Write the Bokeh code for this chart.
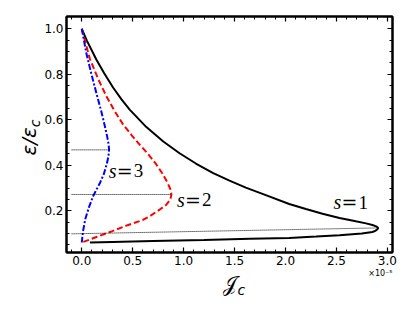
from bokeh.plotting import figure
from bokeh.models import Range1d, FixedTicker, LinearAxis, Label, NumeralTickFormatter
from bokeh.embed import file_html
from bokeh.resources import INLINE

# ---- data (J_c in units of 1e-5, energy as eps/eps_c) ----
s1_J = [0.0, 0.05, 0.144, 0.22, 0.307, 0.39, 0.47, 0.634, 0.8, 0.96, 1.12, 1.29, 1.45, 1.61, 1.8, 2.036, 2.2,
        2.363, 2.53, 2.69, 2.79, 2.853, 2.89, 2.91,
        2.9, 2.88, 2.853, 2.75, 2.53, 2.3, 2.036, 1.65, 1.2, 0.7, 0.3, 0.08]
s1_E = [1.0, 0.948, 0.864, 0.805, 0.742, 0.69, 0.645, 0.568, 0.505, 0.453, 0.408, 0.366, 0.333, 0.302, 0.27, 0.23,
        0.208, 0.187, 0.169, 0.154, 0.145, 0.138, 0.132, 0.125,
        0.118, 0.112, 0.107, 0.1, 0.093, 0.087, 0.081, 0.077, 0.072, 0.067, 0.063, 0.061]

s2_J = [0.0, 0.078, 0.16, 0.24, 0.32, 0.405, 0.49, 0.57, 0.65, 0.73, 0.79, 0.84, 0.87, 0.88, 0.87, 0.83, 0.76,
        0.68, 0.6, 0.45, 0.3, 0.15, 0.0]
s2_E = [1.0, 0.87, 0.78, 0.705, 0.64, 0.58, 0.532, 0.49, 0.45, 0.405, 0.365, 0.325, 0.295, 0.272, 0.25, 0.227,
        0.204, 0.18, 0.16, 0.137, 0.111, 0.086, 0.061]

s3_J = [0.0, 0.046, 0.095, 0.144, 0.19, 0.225, 0.25, 0.264, 0.268, 0.262, 0.245, 0.215, 0.176, 0.14, 0.11, 0.07,
        0.035, 0.012, 0.0]
s3_E = [1.0, 0.89, 0.8, 0.716, 0.64, 0.575, 0.525, 0.49, 0.468, 0.44, 0.405, 0.36, 0.32, 0.29, 0.263, 0.215,
        0.165, 0.11, 0.061]

# dotted guide lines: start / end points
guide_x0 = [-0.1, -0.1, -0.1]
guide_y0 = [0.468, 0.272, 0.099]
guide_x1 = [0.268, 0.88, 2.91]
guide_y1 = [0.468, 0.272, 0.125]

# curve labels
lab_num = ["1", "2", "3"]
lab_x = [2.47, 0.934, 0.265]
lab_y = [0.238, 0.248, 0.376]

x_major = [0.0, 0.5, 1.0, 1.5, 2.0, 2.5, 3.0]
y_major = [0.2, 0.4, 0.6, 0.8, 1.0]
x_minor = [round(0.1 * i, 1) for i in range(-1, 31)]
y_minor = [round(0.05 * i, 2) for i in range(0, 21)]

p = figure(frame_width=326, frame_height=236,
           x_range=Range1d(-0.15, 3.05), y_range=Range1d(0.017, 1.054),
           output_backend="svg", toolbar_location=None,
           min_border_left=66, min_border_right=12, min_border_top=16, min_border_bottom=10)
p.xgrid.visible = False
p.ygrid.visible = False
p.outline_line_color = "black"
p.outline_line_width = 2
p.background_fill_color = "white"
p.border_fill_color = "white"

xt = FixedTicker(ticks=x_major, minor_ticks=x_minor)
yt = FixedTicker(ticks=y_major, minor_ticks=y_minor)

p.add_layout(LinearAxis(), "above")
p.add_layout(LinearAxis(), "right")

for ax in p.xaxis:
    ax.ticker = xt
for ax in p.yaxis:
    ax.ticker = yt

for ax in list(p.xaxis) + list(p.yaxis):
    ax.axis_line_width = 2
    ax.axis_line_color = "black"
    ax.major_tick_in = 5
    ax.major_tick_out = 0
    ax.minor_tick_in = 3
    ax.minor_tick_out = 0
    ax.major_tick_line_width = 1.2
    ax.minor_tick_line_width = 1
    ax.major_tick_line_color = "black"
    ax.minor_tick_line_color = "black"
    ax.major_label_text_font = "DejaVu Sans"
    ax.major_label_text_font_size = "12px"
    ax.major_label_text_color = "black"
    ax.major_label_standoff = 3
    ax.formatter = NumeralTickFormatter(format="0.0")

for ax in (p.above[0], p.right[0]):
    ax.major_label_text_font_size = "0px"
    ax.major_label_text_color = None
    ax.major_label_standoff = 0

xa = p.below[0]
xa.axis_label = "𝒥"
xa.axis_label_text_font = "DejaVu Sans"
xa.axis_label_text_font_style = "normal"
xa.axis_label_text_font_size = "20px"
xa.axis_label_text_color = "black"
xa.axis_label_standoff = 4

p.line(s1_J, s1_E, line_color="black", line_width=2)
p.line(s2_J, s2_E, line_color="red", line_width=2, line_dash="6 3")
p.line(s3_J, s3_E, line_color="blue", line_width=2, line_dash="6 2 2 2")
p.segment(guide_x0, guide_y0, guide_x1, guide_y1, line_color="black", line_width=1, line_dash="1 1")

for num, lx, ly in zip(lab_num, lab_x, lab_y):
    p.add_layout(Label(x=lx, y=ly, text="s", text_font="Liberation Serif", text_font_style="italic",
                       text_font_size="20px", text_baseline="alphabetic", text_align="left",
                       text_color="black"))
    p.add_layout(Label(x=lx, y=ly, x_offset=8, text="=", text_font="DejaVu Serif",
                       text_font_size="19px", text_baseline="alphabetic", text_align="left",
                       text_color="black"))
    p.add_layout(Label(x=lx, y=ly, x_offset=25, text=num, text_font="Liberation Serif",
                       text_font_size="19px", text_baseline="alphabetic", text_align="left",
                       text_color="black"))

# y title, subscripts and offset text: side-panel labels positioned through the data scales
p.add_layout(Label(x=-0.523, y=0.505, text="ε/ε", text_color="black",
                   angle=90, angle_units="deg", text_font="DejaVu Sans", text_font_style="italic",
                   text_font_size="20px", text_align="center", text_baseline="middle"), "left")
p.add_layout(Label(x=-0.459, y=0.584, text="c", text_color="black",
                   angle=90, angle_units="deg", text_font="DejaVu Sans", text_font_style="italic",
                   text_font_size="14px", text_align="center", text_baseline="middle"), "left")
p.add_layout(Label(x=1.566, y=-0.146, text="c", text_color="black",
                   text_font="DejaVu Sans", text_font_style="italic", text_font_size="14px",
                   text_align="center", text_baseline="middle"), "right")
p.add_layout(Label(x=3.05, y=-0.076, text="×10⁻⁵", text_color="black",
                   text_font="DejaVu Sans", text_font_size="8px", text_align="right",
                   text_baseline="middle"), "above")

open("out.html", "w").write(file_html(p, INLINE))
